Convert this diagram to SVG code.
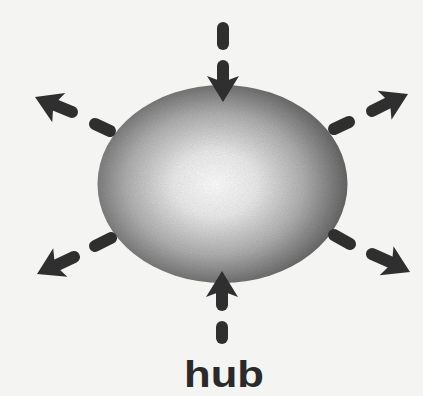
<svg xmlns="http://www.w3.org/2000/svg" xmlns:xlink="http://www.w3.org/1999/xlink" width="423" height="396" viewBox="0 0 423 396">
<style>
.dash{stroke:#2f2f2f;stroke-width:12;stroke-linecap:round;fill:none}
.shaft{stroke:#2f2f2f;stroke-width:12;stroke-linecap:round;fill:none}
.head{fill:#2f2f2f}
.label{font-family:"Liberation Sans","Open Sans",sans-serif;font-weight:bold;font-size:37px;fill:#2a2a2a}
</style>
<defs>
<radialGradient id="sphereGrad" cx="0.47" cy="0.5" r="0.55">
<stop offset="0" stop-color="#ffffff"/>
<stop offset="0.3" stop-color="#ececec"/>
<stop offset="0.65" stop-color="#b0b0b0"/>
<stop offset="1" stop-color="#5e5e5e"/>
</radialGradient>
<filter id="grain" x="0" y="0" width="100%" height="100%">
<feTurbulence type="fractalNoise" baseFrequency="0.9" numOctaves="2" seed="3" result="n"/>
<feColorMatrix in="n" type="matrix" values="0 0 0 0 0  0 0 0 0 0  0 0 0 0 0  0 0 0 0.2 0" result="g"/>
<feComposite in="g" in2="SourceGraphic" operator="in" result="gi"/>
<feMerge><feMergeNode in="SourceGraphic"/><feMergeNode in="gi"/></feMerge>
</filter>
<path id="head" d="M0,0 L-26,-16 L-20,0 L-26,16 Z"/>
</defs>
<rect width="423" height="396" fill="#f4f4f2"/>
<g id="hub">
<ellipse cx="222.5" cy="184" rx="125" ry="99" fill="url(#sphereGrad)" filter="url(#grain)"/>
</g>
<g id="connectors">
<line class="dash" x1="223" y1="28" x2="223" y2="44"/>
<line class="shaft" x1="223" y1="66" x2="223" y2="84"/>
<use xlink:href="#head" class="head" transform="translate(223,102) rotate(90)"/>
<line class="dash" x1="222" y1="327" x2="222" y2="338"/>
<line class="shaft" x1="222" y1="290" x2="222" y2="305"/>
<use xlink:href="#head" class="head" transform="translate(222,271) rotate(-90)"/>
<line class="dash" x1="95" y1="124" x2="110" y2="131"/>
<line class="shaft" x1="55" y1="105" x2="72" y2="112"/>
<use xlink:href="#head" class="head" transform="translate(35,97) rotate(204)"/>
<line class="dash" x1="334" y1="129" x2="349" y2="122"/>
<line class="shaft" x1="372" y1="111" x2="388" y2="103"/>
<use xlink:href="#head" class="head" transform="translate(408,94) rotate(-25.7)"/>
<line class="dash" x1="111" y1="238" x2="95" y2="246"/>
<line class="shaft" x1="74" y1="257" x2="57" y2="265"/>
<use xlink:href="#head" class="head" transform="translate(37,274) rotate(153.7)"/>
<line class="dash" x1="334" y1="235" x2="350" y2="244"/>
<line class="shaft" x1="372" y1="254" x2="390" y2="262"/>
<use xlink:href="#head" class="head" transform="translate(410,272) rotate(25.7)"/>
</g>
<g id="label">
<text class="label" x="224" y="387" text-anchor="middle" textLength="80" lengthAdjust="spacingAndGlyphs">hub</text>
</g>
</svg>
